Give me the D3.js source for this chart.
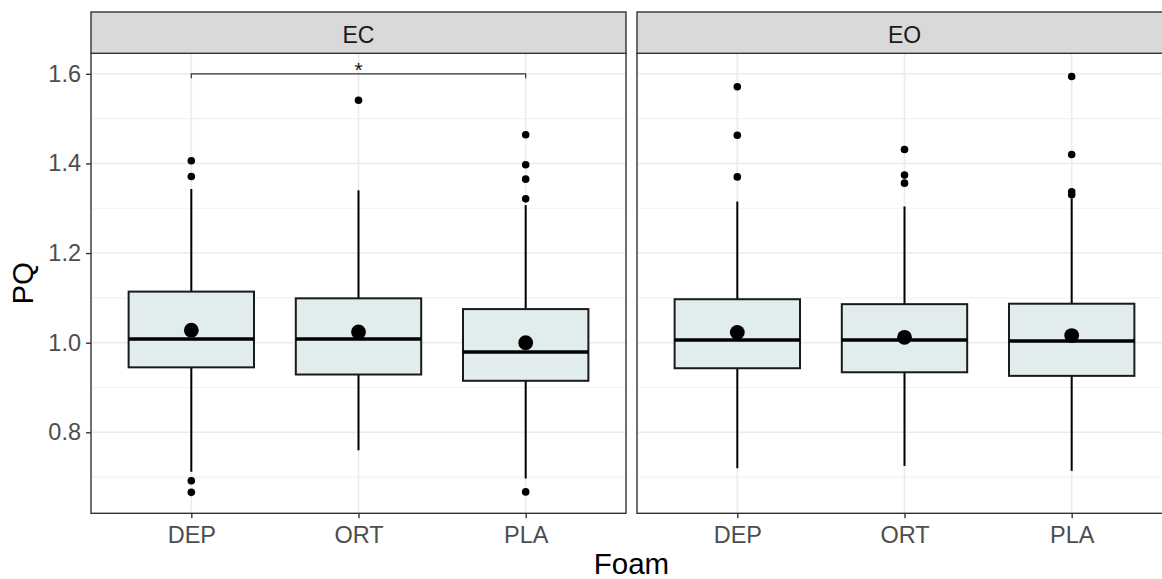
<!DOCTYPE html>
<html>
<head>
<meta charset="utf-8">
<script src="https://cdn.jsdelivr.net/npm/d3@7"></script>
<style>
  html, body { margin: 0; padding: 0; background: #ffffff; }
  svg { display: block; font-family: "Liberation Sans", Arial, sans-serif; }
</style>
</head>
<body>
<svg id="chart" width="1162" height="579"></svg>
<script>
// ---------- data ----------
const facets = ["EC", "EO"];
const foams = ["DEP", "ORT", "PLA"];
const yTicks = [0.8, 1.0, 1.2, 1.4, 1.6];
const yMinorTicks = [0.7, 0.9, 1.1, 1.3, 1.5];
// [facet][foam]
const whiskerLow  = [[0.712, 0.760, 0.697], [0.720, 0.725, 0.714]];
const q1          = [[0.945, 0.929, 0.915], [0.943, 0.934, 0.926]];
const medians     = [[1.008, 1.008, 0.979], [1.006, 1.006, 1.004]];
const q3          = [[1.114, 1.099, 1.075], [1.097, 1.086, 1.087]];
const whiskerHigh = [[1.343, 1.340, 1.307], [1.315, 1.304, 1.322]];
const means       = [[1.028, 1.024, 1.000], [1.023, 1.012, 1.016]];
const outliers = [
  [[1.406, 1.371, 0.692, 0.666], [1.541], [1.464, 1.397, 1.365, 1.321, 0.667]],
  [[1.571, 1.463, 1.370], [1.431, 1.374, 1.356], [1.594, 1.420, 1.337, 1.330]]
];
// significance bracket (EC panel)
const sigFacet = ["EC"];
const sigFrom = ["DEP"];
const sigTo = ["PLA"];
const sigY = [1.6];
const sigLabel = ["*"];

// ---------- layout ----------
const svg = d3.select("#chart");
const panelTop = 53.3, panelBottom = 513.3, stripTop = 12;
const panelW = 535, panelGap = 11, panelLeft0 = 91;

const y = d3.scaleLinear().domain([0.6193, 1.6458]).range([panelBottom, panelTop]);
const x = d3.scalePoint().domain(foams).range([0, panelW]).padding(0.6);
const boxW = x.step() * 0.75;

facets.forEach((f, fi) => {
  const left = panelLeft0 + fi * (panelW + panelGap);
  const g = svg.append("g").attr("transform", `translate(${left},0)`);

  // panel background
  g.append("rect").attr("x", 0).attr("y", panelTop).attr("width", panelW)
    .attr("height", panelBottom - panelTop).attr("fill", "#ffffff");

  // grid
  g.selectAll(".gminor").data(yMinorTicks).enter().append("line")
    .attr("x1", 0).attr("x2", panelW).attr("y1", d => y(d)).attr("y2", d => y(d))
    .attr("stroke", "#f2f2f2").attr("stroke-width", 1.2);
  g.selectAll(".gmajor").data(yTicks).enter().append("line")
    .attr("x1", 0).attr("x2", panelW).attr("y1", d => y(d)).attr("y2", d => y(d))
    .attr("stroke", "#ebebeb").attr("stroke-width", 1.6);
  g.selectAll(".gx").data(foams).enter().append("line")
    .attr("x1", d => x(d)).attr("x2", d => x(d)).attr("y1", panelTop).attr("y2", panelBottom)
    .attr("stroke", "#ebebeb").attr("stroke-width", 1.6);

  // boxes
  foams.forEach((c, ci) => {
    const cx = x(c);
    const bg = g.append("g");
    // whiskers
    bg.append("line").attr("x1", cx).attr("x2", cx)
      .attr("y1", y(q3[fi][ci])).attr("y2", y(whiskerHigh[fi][ci]))
      .attr("stroke", "#000").attr("stroke-width", 2);
    bg.append("line").attr("x1", cx).attr("x2", cx)
      .attr("y1", y(q1[fi][ci])).attr("y2", y(whiskerLow[fi][ci]))
      .attr("stroke", "#000").attr("stroke-width", 2);
    // box
    bg.append("rect").attr("x", cx - boxW / 2).attr("width", boxW)
      .attr("y", y(q3[fi][ci])).attr("height", y(q1[fi][ci]) - y(q3[fi][ci]))
      .attr("fill", "#e1ecec").attr("stroke", "#1a1a1a").attr("stroke-width", 2);
    // median
    bg.append("line").attr("x1", cx - boxW / 2).attr("x2", cx + boxW / 2)
      .attr("y1", y(medians[fi][ci])).attr("y2", y(medians[fi][ci]))
      .attr("stroke", "#000").attr("stroke-width", 3.5);
    // outliers
    bg.selectAll(".out").data(outliers[fi][ci]).enter().append("circle")
      .attr("cx", cx).attr("cy", d => y(d)).attr("r", 3.8).attr("fill", "#000");
    // mean
    bg.append("circle").attr("cx", cx).attr("cy", y(means[fi][ci])).attr("r", 7.4).attr("fill", "#000");
  });

  // significance
  sigFacet.forEach((sf, si) => {
    if (sf !== f) return;
    const x1 = x(sigFrom[si]), x2 = x(sigTo[si]), yy = y(sigY[si]);
    g.append("path")
      .attr("d", `M${x1},${yy + 4.5}L${x1},${yy}L${x2},${yy}L${x2},${yy + 4.5}`)
      .attr("fill", "none").attr("stroke", "#333").attr("stroke-width", 1.2);
    g.append("text").attr("x", (x1 + x2) / 2).attr("y", yy + 3)
      .attr("text-anchor", "middle").attr("font-size", 21).attr("fill", "#111")
      .text(sigLabel[si]);
  });

  // panel border
  g.append("rect").attr("x", 0).attr("y", panelTop).attr("width", panelW)
    .attr("height", panelBottom - panelTop).attr("fill", "none")
    .attr("stroke", "#333333").attr("stroke-width", 1.4);

  // strip
  g.append("rect").attr("x", 0).attr("y", stripTop).attr("width", panelW)
    .attr("height", panelTop - stripTop).attr("fill", "#d9d9d9")
    .attr("stroke", "#333333").attr("stroke-width", 1.4);
  g.append("text").attr("x", panelW / 2).attr("y", 42.5).attr("text-anchor", "middle")
    .attr("font-size", 23).attr("fill", "#1a1a1a").text(f);

  // x axis
  const xAxis = d3.axisBottom(x).tickSize(5).tickPadding(4);
  const ax = g.append("g").attr("transform", `translate(0,${panelBottom})`).call(xAxis);
  ax.select(".domain").remove();
  ax.selectAll(".tick line").attr("stroke", "#333333").attr("stroke-width", 1.4);
  ax.selectAll(".tick text").attr("font-size", 23.5).attr("fill", "#4d4d4d")
    .attr("font-family", "Liberation Sans, Arial, sans-serif")
    .attr("dy", null).attr("y", 30);

  // y axis only on first panel
  if (fi === 0) {
    const yAxis = d3.axisLeft(y).tickValues(yTicks).tickFormat(d3.format(".1f")).tickSize(5).tickPadding(5);
    const ay = g.append("g").call(yAxis);
    ay.select(".domain").remove();
    ay.selectAll(".tick line").attr("stroke", "#333333").attr("stroke-width", 1.4);
    ay.selectAll(".tick text").attr("font-size", 23.5).attr("fill", "#4d4d4d")
      .attr("font-family", "Liberation Sans, Arial, sans-serif");
  }
});

// axis titles
const plotCenter = panelLeft0 + (2 * panelW + panelGap) / 2;
svg.append("text").attr("x", plotCenter).attr("y", 574).attr("text-anchor", "middle")
  .attr("font-size", 29.5).attr("fill", "#000").text("Foam");
svg.append("text").attr("transform", `translate(33,${(panelTop + panelBottom) / 2}) rotate(-90)`)
  .attr("text-anchor", "middle").attr("font-size", 29.5).attr("fill", "#000").text("PQ");
</script>
</body>
</html>
